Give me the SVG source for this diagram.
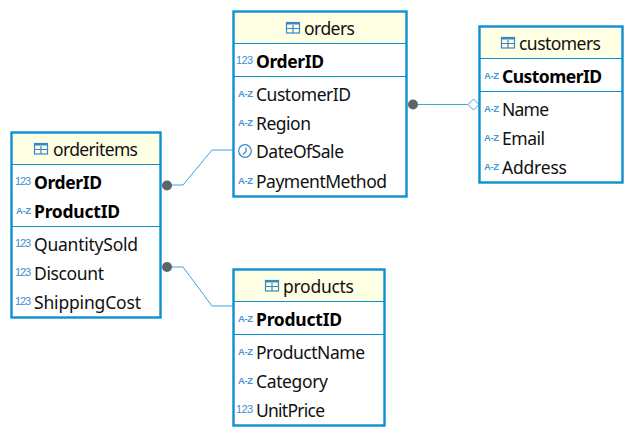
<svg xmlns="http://www.w3.org/2000/svg" width="633" height="437" viewBox="0 0 633 437">
<style>
.box{fill:#fff;stroke:#0d8fd0;stroke-width:2.4}
.hd{fill:#ffffe3}
.sep{stroke:#0d8fd0;stroke-width:1.2;fill:none}
text{font-family:"Noto Sans","Open Sans","Liberation Sans",sans-serif;fill:#111}
.t{font-size:17.5px;text-anchor:start}
.f{font-size:17.5px}
.k{font-size:17.5px;font-weight:700;fill:#000}
.i{font-size:11px;fill:#3f8fd0;font-family:"Liberation Sans",sans-serif}
.az{font-size:9.500px;font-weight:700;fill:#4a94d4;font-family:"Liberation Sans",sans-serif}
.ic{fill:none;stroke:#3a86c8;stroke-width:1.2}
.c{fill:none;stroke:#3ba6dc;stroke-width:1}
.d{fill:#5f6468}
</style>
<defs>
<g id="tbl"><rect x="0.5" y="0.5" width="13" height="10.500" class="ic"/><rect x="0.5" y="0.5" width="13" height="2" fill="#3a86c8" stroke="none"/><path d="M0.5 6.500H13.500M7 3V11" class="ic"/></g>
<g id="clk"><circle cx="7" cy="7" r="6.300" class="ic"/><path d="M8 3.500V7.500L5 10.500" class="ic"/></g>
</defs>
<g id="connectors">
<path class="c" d="M167 185H183L212 150H233"/>
<path class="c" d="M167 267H183L212 306H233"/>
<path class="c" d="M413 104.500H468"/>
<circle class="d" cx="167" cy="185.500" r="5"/>
<circle class="d" cx="167" cy="267" r="5"/>
<circle class="d" cx="413" cy="104.500" r="5"/>
<path d="M468 104.500L473.500 99L479 104.500L473.500 110Z" fill="#fff" stroke="#3ba6dc" stroke-width="1"/>
</g>
<g id="orders">
<rect class="box" x="233.500" y="11.500" width="173" height="185"/>
<rect class="hd" x="235" y="13" width="170" height="30"/>
<path class="sep" d="M234 43.500H406M234 76.500H406"/>
<use href="#tbl" x="286" y="22"/>
<text class="t" x="304" y="35" textLength="51">orders</text>
<text class="i" x="236" y="64" textLength="17">123</text>
<text class="k" x="256" y="67.500" textLength="68">OrderID</text>
<text class="az" x="238" y="97" textLength="15">A-Z</text>
<text class="f" x="256" y="101" textLength="95">CustomerID</text>
<text class="az" x="238" y="126" textLength="15">A-Z</text>
<text class="f" x="256" y="130" textLength="55">Region</text>
<use href="#clk" x="238" y="144"/>
<text class="f" x="256" y="158" textLength="88">DateOfSale</text>
<text class="az" x="238" y="184" textLength="15">A-Z</text>
<text class="f" x="256" y="188" textLength="131">PaymentMethod</text>
</g>
<g id="customers">
<rect class="box" x="479.500" y="26.500" width="143" height="156"/>
<rect class="hd" x="481" y="28" width="140" height="30"/>
<path class="sep" d="M480 58.500H622M480 91.500H622"/>
<use href="#tbl" x="501" y="37"/>
<text class="t" x="519" y="50" textLength="82">customers</text>
<text class="az" x="484" y="79" textLength="15">A-Z</text>
<text class="k" x="502" y="83" textLength="100">CustomerID</text>
<text class="az" x="484" y="112" textLength="15">A-Z</text>
<text class="f" x="502" y="116" textLength="47">Name</text>
<text class="az" x="484" y="141" textLength="15">A-Z</text>
<text class="f" x="502" y="145" textLength="43">Email</text>
<text class="az" x="484" y="170" textLength="15">A-Z</text>
<text class="f" x="502" y="174" textLength="65">Address</text>
</g>
<g id="orderitems">
<rect class="box" x="11.500" y="132.500" width="149" height="185"/>
<rect class="hd" x="13" y="134" width="146" height="30"/>
<path class="sep" d="M12 164.500H160M12 226.500H160"/>
<use href="#tbl" x="34" y="143"/>
<text class="t" x="53" y="156" textLength="85">orderitems</text>
<text class="i" x="15" y="185" textLength="16">123</text>
<text class="k" x="34" y="189" textLength="68">OrderID</text>
<text class="az" x="16" y="214" textLength="15">A-Z</text>
<text class="k" x="34" y="218" textLength="86">ProductID</text>
<text class="i" x="15" y="247" textLength="16">123</text>
<text class="f" x="34" y="251" textLength="104">QuantitySold</text>
<text class="i" x="15" y="276" textLength="16">123</text>
<text class="f" x="34" y="280" textLength="70">Discount</text>
<text class="i" x="15" y="305" textLength="16">123</text>
<text class="f" x="34" y="309" textLength="107">ShippingCost</text>
</g>
<g id="products">
<rect class="box" x="233.500" y="269.500" width="151" height="156"/>
<rect class="hd" x="235" y="271" width="148" height="30"/>
<path class="sep" d="M234 301.500H384M234 334.500H384"/>
<use href="#tbl" x="265" y="280"/>
<text class="t" x="283" y="293" textLength="71">products</text>
<text class="az" x="238" y="322" textLength="15">A-Z</text>
<text class="k" x="256" y="326" textLength="86">ProductID</text>
<text class="az" x="238" y="355" textLength="15">A-Z</text>
<text class="f" x="256" y="359" textLength="109">ProductName</text>
<text class="az" x="238" y="384" textLength="15">A-Z</text>
<text class="f" x="256" y="388" textLength="72">Category</text>
<text class="i" x="236" y="413" textLength="17">123</text>
<text class="f" x="256" y="417" textLength="69">UnitPrice</text>
</g>
</svg>
